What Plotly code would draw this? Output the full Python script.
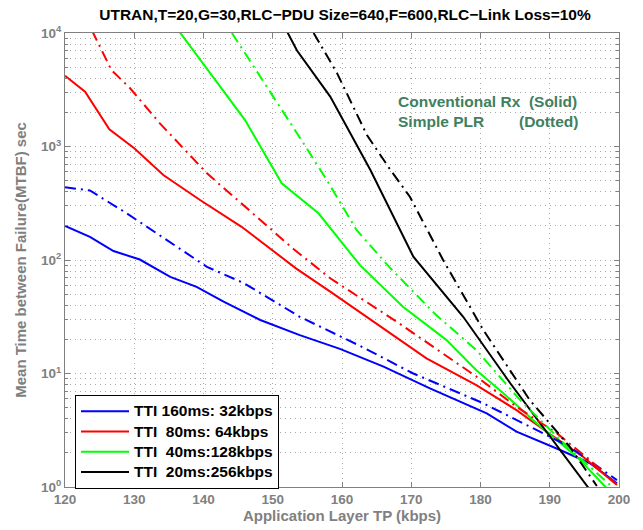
import plotly.graph_objects as go

# ---- data ----
blue_solid_x = [120, 123.6, 127, 130.8, 135.2, 139, 142.9, 148.2, 153.9, 159.7, 166, 172.7, 180.9, 185.2, 191.5, 195.8, 199.7]
blue_solid_y = [200, 160, 120, 101, 71, 58, 43, 29.6, 21.8, 16.5, 11.5, 7.4, 4.46, 3.08, 2.12, 1.62, 1.08]
blue_dd_x = [120, 123.6, 128.9, 134.6, 140.5, 145.8, 153.9, 162.6, 170.3, 180.4, 188.1, 192.9, 199.7]
blue_dd_y = [437, 410, 258, 150, 87, 62.7, 31.6, 17.5, 10, 5.47, 3.18, 2.26, 1.15]

red_solid_x = [120, 122.9, 126.4, 130, 134.2, 139.5, 145.5, 153.4, 158.3, 163.1, 172.2, 179.4, 185.2, 189.5, 194.8, 199.7]
red_solid_y = [4200, 3040, 1420, 964, 561, 338, 196, 84, 52.6, 33, 13.6, 7.9, 4.76, 3.08, 1.85, 1.04]
red_dd_x = [123.9, 126.7, 129.4, 133.7, 140.5, 146.3, 153, 158.3, 167.9, 179.4, 185.2, 191, 195.8, 199.7]
red_dd_y = [10500, 4720, 3260, 1600, 580, 285, 125, 69, 28.6, 9.4, 5.1, 2.98, 1.73, 1.05]

green_solid_x = [136.5, 146, 151.3, 156.6, 162.6, 168.8, 175.1, 179.4, 183.3, 188.1, 193.9, 198.2]
green_solid_y = [10300, 1710, 474, 258, 90, 38.7, 19.7, 10.7, 6.7, 3.65, 1.85, 0.98]
green_dd_x = [144.1, 150.1, 153.9, 157.8, 162.1, 167, 173.6, 179.4, 185.7, 192, 196.8, 199.2]
green_dd_y = [10000, 2750, 1200, 507, 184, 84.5, 32.7, 16.1, 5.85, 2.44, 1.33, 0.98]

black_solid_x = [152.1, 153.5, 158.3, 164.1, 170.3, 177.5, 184.3, 190.1, 193, 195.6]
black_solid_y = [10200, 7000, 2750, 621, 107, 31.6, 8.2, 2.78, 1.62, 0.98]
black_dd_x = [155.9, 159.3, 163.6, 167, 169.8, 174.6, 180.4, 187.1, 192.9, 196.8]
black_dd_y = [10000, 4410, 1260, 621, 361, 100, 24.2, 5.85, 2.26, 1.02]

legend_names = ["TTI 160ms: 32kbps", "TTI  80ms: 64kbps", "TTI  40ms:128kbps", "TTI  20ms:256kbps"]
colors = ["#0000ff", "#ff0000", "#00ff00", "#000000"]

x_ticks = [120, 130, 140, 150, 160, 170, 180, 190, 200]
y_tickvals = [1, 10, 100, 1000, 10000]
y_ticktext = ["10<sup>0</sup>", "10<sup>1</sup>", "10<sup>2</sup>", "10<sup>3</sup>", "10<sup>4</sup>"]
y_minor_vals = [m * d for d in (1, 10, 100, 1000) for m in range(2, 10)]

solid = [(blue_solid_x, blue_solid_y), (red_solid_x, red_solid_y), (green_solid_x, green_solid_y), (black_solid_x, black_solid_y)]
dashed = [(blue_dd_x, blue_dd_y), (red_dd_x, red_dd_y), (green_dd_x, green_dd_y), (black_dd_x, black_dd_y)]

GREY = "#808080"
GRID = "#a8a8a8"
GDASH = "1px,4px"
FONT = "Liberation Sans"
DASHDOT = "11px,5px,2px,5px"

fig = go.Figure()
for (x, y), c, n in zip(solid, colors, legend_names):
    label = '<span style="font-size:15.5px">' + n.replace("  ", "\u00a0\u00a0") + "</span>"
    fig.add_trace(go.Scatter(x=x, y=y, mode="lines", name=label, line=dict(color=c, width=2)))
for (x, y), c in zip(dashed, colors):
    fig.add_trace(go.Scatter(x=x, y=y, mode="lines", showlegend=False,
                             line=dict(color=c, width=2, dash=DASHDOT)))

axis_common = dict(
    showline=True, linecolor=GREY, linewidth=1, mirror="ticks",
    ticks="inside", ticklen=5, tickcolor=GREY,
    showgrid=True, gridcolor=GRID, griddash=GDASH, gridwidth=1,
    zeroline=False,
    tickfont=dict(family=FONT, size=13.5, color=GREY, weight="bold"),
)

fig.update_layout(
    width=643, height=530,
    margin=dict(l=65, r=24, t=33, b=43, autoexpand=False),
    plot_bgcolor="white", paper_bgcolor="white",
    title=dict(text="UTRAN,T=20,G=30,RLC\u2212PDU Size=640,F=600,RLC\u2212Link Loss=10%",
               x=345 / 643, xanchor="center", y=1 - 15 / 530, yanchor="middle",
               font=dict(family=FONT, size=15.5, color="black", weight="bold")),
    xaxis=dict(range=[120, 200], tickvals=x_ticks, **axis_common,
               title=dict(text="Application Layer TP (kbps)", standoff=3,
                          font=dict(family=FONT, size=15, color=GREY, weight="bold"))),
    yaxis=dict(type="log", range=[0, 4], tickvals=y_tickvals, ticktext=y_ticktext, **axis_common,
               minor=dict(tickvals=y_minor_vals, ticks="inside", ticklen=3, tickcolor=GREY,
                          showgrid=True, gridcolor=GRID, griddash=GDASH),
               title=dict(text="Mean Time between Failure(MTBF) sec", standoff=10,
                          font=dict(family=FONT, size=15, color=GREY, weight="bold"))),
    legend=dict(x=(75 - 65) / 554, y=(487 - 395) / 454, xanchor="left", yanchor="top",
                bgcolor="white", bordercolor="black", borderwidth=1,
                font=dict(family=FONT, size=13.3, color="black", weight="bold"),
                itemwidth=48, tracegroupgap=0),
    showlegend=True,
)

ann_font = dict(family=FONT, size=15.5, color="#408060", weight="bold")
fig.add_annotation(text="Conventional Rx  (Solid)", xref="paper", yref="paper",
                   x=(396 - 65) / 554, y=(487 - 102) / 454, xanchor="left", yanchor="middle",
                   showarrow=False, font=ann_font)
fig.add_annotation(text="Simple PLR", xref="paper", yref="paper",
                   x=(396 - 65) / 554, y=(487 - 122) / 454, xanchor="left", yanchor="middle",
                   showarrow=False, font=ann_font)
fig.add_annotation(text="(Dotted)", xref="paper", yref="paper",
                   x=(580 - 65) / 554, y=(487 - 122) / 454, xanchor="right", yanchor="middle",
                   showarrow=False, font=ann_font)

fig.write_html("out.html", config={"displayModeBar": False},
               post_script="document.body.style.margin='0';document.body.style.overflow='hidden';")
